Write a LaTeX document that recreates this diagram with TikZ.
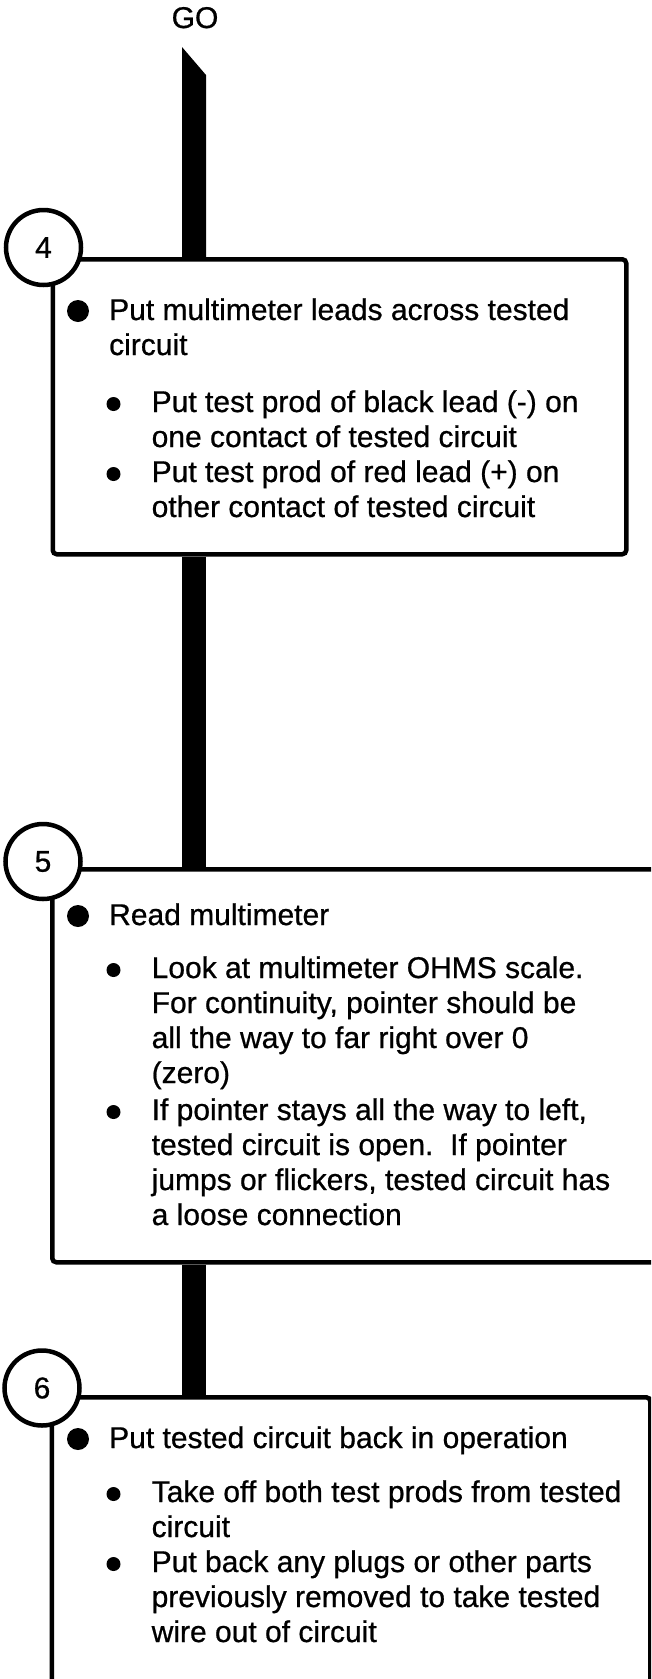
\documentclass[tikz,border=0pt]{standalone}
\usepackage{fontspec}
\setmainfont{Liberation Sans}[FakeBold=0.7]
\begin{document}
\begin{tikzpicture}[x=1pt,y=-1pt,
  box/.style={draw, line width=4.5pt, rounded corners=4pt, inner sep=0pt, anchor=north west},
  num/.style={circle, draw, line width=4.5pt, fill=white, minimum size=75pt, inner sep=0pt, font=\fontsize{30}{35}\selectfont},
  txt/.style={anchor=base west, inner sep=0pt, font=\fontsize{30}{35}\selectfont},
  bigdot/.style={circle, fill=black, minimum size=22pt, inner sep=0pt},
  smalldot/.style={circle, fill=black, minimum size=14pt, inner sep=0pt},
  bar/.style={line width=24pt}]
\clip (0,0) rectangle (651,1679);
\fill[white] (0,0) rectangle (651,1679);

% GO label and bar start
\node[anchor=base, inner sep=0pt, font=\fontsize{30}{34}\selectfont] (go) at (195,28) {GO};
\coordinate (goL) at (182,47);
\coordinate (goR) at (206,75);
\coordinate (barx) at (194,0);

% boxes
\node[box, minimum width=573.5pt, minimum height=295pt] (box4) at (50.5,257) {};
\node[box, minimum width=660pt, minimum height=393pt] (box5) at (50,867) {};
\node[box, minimum width=598.5pt, minimum height=288pt] (box6) at (49.5,1395) {};

% connectors (thick bar)
\fill (goL) -- (goR) -- (goR |- box4.north) -- (goL |- box4.north) -- cycle;
\draw[bar] (barx |- box4.south) -- (barx |- box5.north);
\draw[bar] (barx |- box5.south) -- (barx |- box6.north);

% step circles
\node[num] (c4) at (43.5,247.5) {4};
\node[num] (c5) at (43,861.5) {5};
\node[num] (c6) at (42,1388) {6};

% box 4 text
\node[bigdot] (b4) at (78,311) {};
\node[txt] (t4a) at (109,320) {Put multimeter leads across tested};
\node[txt] (t4b) at (109,355) {circuit};
\node[smalldot] (d4a) at (113.5,404) {};
\node[txt] (t4c) at (151.5,412) {Put test prod of black lead (-) on};
\node[txt] (t4d) at (151.5,447) {one contact of tested circuit};
\node[smalldot] (d4b) at (113.5,474) {};
\node[txt] (t4e) at (151.5,482) {Put test prod of red lead (+) on};
\node[txt] (t4f) at (151.5,517) {other contact of tested circuit};

% box 5 text
\node[bigdot] (b5) at (78,916) {};
\node[txt] (t5a) at (109,925) {Read multimeter};
\node[smalldot] (d5a) at (113.5,970) {};
\node[txt] (t5b) at (151.5,978) {Look at multimeter OHMS scale.};
\node[txt] (t5c) at (151.5,1013) {For continuity, pointer should be};
\node[txt] (t5d) at (151.5,1048) {all the way to far right over 0};
\node[txt] (t5e) at (151.5,1083) {(zero)};
\node[smalldot] (d5b) at (113.5,1112) {};
\node[txt] (t5f) at (151.5,1120) {If pointer stays all the way to left,};
\node[txt] (t5g) at (151.5,1155) {tested circuit is open.\ \ If pointer};
\node[txt] (t5h) at (151.5,1190) {jumps or flickers, tested circuit has};
\node[txt] (t5i) at (151.5,1225) {a loose connection};

% box 6 text
\node[bigdot] (b6) at (78,1439) {};
\node[txt] (t6a) at (109,1448) {Put tested circuit back in operation};
\node[smalldot] (d6a) at (113.5,1494) {};
\node[txt] (t6b) at (151.5,1502) {Take off both test prods from tested};
\node[txt] (t6c) at (151.5,1537) {circuit};
\node[smalldot] (d6b) at (113.5,1564) {};
\node[txt] (t6d) at (151.5,1572) {Put back any plugs or other parts};
\node[txt] (t6e) at (151.5,1607) {previously removed to take tested};
\node[txt] (t6f) at (151.5,1642) {wire out of circuit};
\end{tikzpicture}
\end{document}
